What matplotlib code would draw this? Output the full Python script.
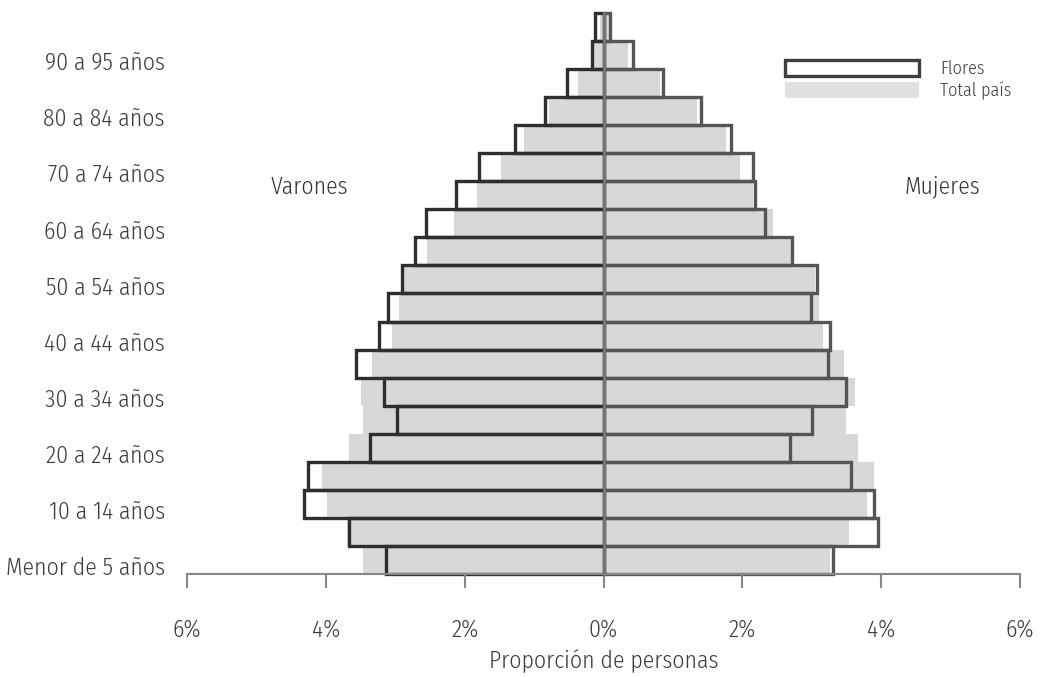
import numpy as np
import matplotlib
matplotlib.use("Agg")
import matplotlib.pyplot as plt
import matplotlib.transforms as mtransforms
from matplotlib.patches import Patch

plt.rcParams.update({
    "font.family": ["Fira Sans Condensed", "DejaVu Sans"],
    "font.weight": 300,
    "axes.labelweight": 300,
    "text.color": "#3a3a3a",
    "xtick.color": "#888888",
    "xtick.labelcolor": "#3a3a3a",
    "ytick.labelcolor": "#3a3a3a",
})

# age groups, from youngest to oldest
age_groups = ["Menor de 5 años", "5 a 9 años", "10 a 14 años", "15 a 19 años",
              "20 a 24 años", "25 a 29 años", "30 a 34 años", "35 a 39 años",
              "40 a 44 años", "45 a 49 años", "50 a 54 años", "55 a 59 años",
              "60 a 64 años", "65 a 69 años", "70 a 74 años", "75 a 79 años",
              "80 a 84 años", "85 a 89 años", "90 a 95 años", "95 años y más"]

# % of population (Flores vs total país)
flores_varones = [3.13, 3.66, 4.31, 4.25, 3.36, 2.98, 3.16, 3.56, 3.23, 3.10,
                  2.90, 2.72, 2.56, 2.12, 1.79, 1.28, 0.84, 0.52, 0.17, 0.12]
pais_varones = [3.46, 3.70, 3.99, 4.06, 3.66, 3.47, 3.49, 3.33, 3.04, 2.94,
                2.87, 2.54, 2.15, 1.82, 1.47, 1.14, 0.79, 0.37, 0.13, 0.05]
flores_mujeres = [3.30, 3.96, 3.90, 3.57, 2.69, 3.01, 3.50, 3.23, 3.27, 2.99,
                  3.07, 2.72, 2.32, 2.18, 2.15, 1.84, 1.40, 0.85, 0.42, 0.10]
pais_mujeres = [3.26, 3.53, 3.80, 3.90, 3.66, 3.50, 3.63, 3.46, 3.16, 3.11,
                3.04, 2.70, 2.44, 2.16, 1.96, 1.77, 1.34, 0.81, 0.35, 0.08]

x_ticks = [-6, -4, -2, 0, 2, 4, 6]
x_ticklabels = ["6%", "4%", "2%", "0%", "2%", "4%", "6%"]

GRAY = "#d7d8da"
DARK_M = "#2e2e2e"
DARK_F = "#555555"

fig = plt.figure(figsize=(10.4, 6.77), dpi=100)
ax = fig.add_axes([187 / 1040, 103 / 677, (1020 - 187) / 1040, (574 - 13) / 677])

y = np.arange(len(age_groups))
ax.barh(y, -np.array(pais_varones), height=1.0, color=GRAY, linewidth=0)
ax.barh(y, pais_mujeres, height=1.0, color=GRAY, linewidth=0)
ax.barh(y, -np.array(flores_varones), height=1.0, fill=False,
        edgecolor=DARK_M, linewidth=2.4, clip_on=False)
ax.barh(y, flores_mujeres, height=1.0, fill=False,
        edgecolor=DARK_F, linewidth=2.4, clip_on=False)

ax.axvline(0, color="#777777", linewidth=2, zorder=5, clip_on=False)

ax.set_xlim(-6, 6)
ax.set_ylim(-0.5, len(age_groups) - 0.5)

ax.set_xticks(x_ticks)
ax.set_xticklabels(x_ticklabels, fontsize=17)
ax.tick_params(axis="x", length=10, width=1.5, pad=22)
ax.set_xlabel("Proporción de personas", fontsize=17, fontweight=300,
              labelpad=6, color="#3a3a3a")

ax.set_yticks(y[::2])
ax.set_yticklabels(age_groups[::2], fontsize=17)
ax.tick_params(axis="y", length=0, pad=16)
offset = mtransforms.ScaledTranslation(0, -6 / 100, fig.dpi_scale_trans)
for lab in ax.get_yticklabels():
    lab.set_transform(lab.get_transform() + offset)

for side in ["top", "right", "left"]:
    ax.spines[side].set_visible(False)
ax.spines["bottom"].set_color("#888888")
ax.spines["bottom"].set_linewidth(1.5)

ax.text(-4.24, 13.3, "Varones", fontsize=17, ha="center", va="center", color="#333333")
ax.text(4.88, 13.3, "Mujeres", fontsize=17, ha="center", va="center", color="#333333")

handles = [Patch(facecolor="white", edgecolor="#3f3f3f", linewidth=2.4, label="Flores"),
           Patch(facecolor="#e1e1e2", edgecolor="none", label="Total país")]
ax.legend(handles=handles, loc="upper left", bbox_to_anchor=(785 / 1040, 1 - 60 / 677),
          bbox_transform=fig.transFigure, frameon=False, fontsize=13,
          handlelength=7.4, handleheight=0.95, labelspacing=0.2,
          handletextpad=1.2, borderpad=0, borderaxespad=0)

fig.savefig("out.png", dpi=100)
